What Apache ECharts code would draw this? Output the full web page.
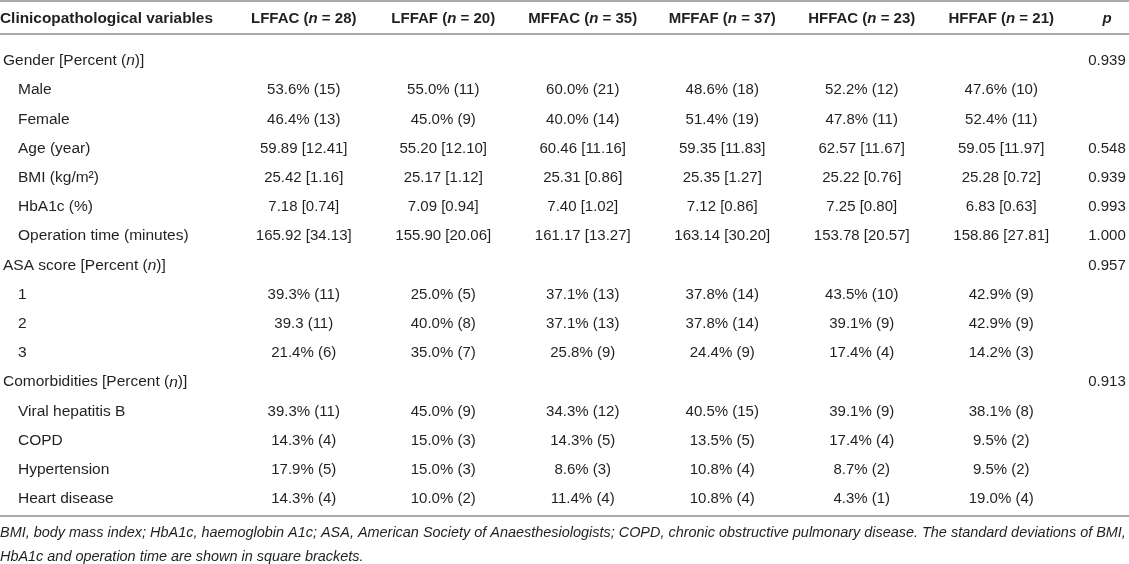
<!DOCTYPE html>
<html>
<head>
<meta charset="utf-8">
<script src="https://cdn.jsdelivr.net/npm/echarts@6/dist/echarts.min.js"></script>
<style>
  html, body { margin: 0; padding: 0; background: #fff; }
  #table { width: 1129px; height: 564px; }
</style>
</head>
<body>
<div id="table"></div>
<script>
var groups = ['LFFAC', 'LFFAF', 'MFFAC', 'MFFAF', 'HFFAC', 'HFFAF'];
var groupN = [28, 20, 35, 37, 23, 21];

var rows = [
  'Gender [Percent (n)]', 'Male', 'Female', 'Age (year)', 'BMI (kg/m²)', 'HbA1c (%)',
  'Operation time (minutes)', 'ASA score [Percent (n)]', '1', '2', '3',
  'Comorbidities [Percent (n)]', 'Viral hepatitis B', 'COPD', 'Hypertension', 'Heart disease'
];
var rowLevel = [0, 1, 1, 1, 1, 1, 1, 0, 1, 1, 1, 0, 1, 1, 1, 1];

var lffac = ['', '53.6% (15)', '46.4% (13)', '59.89 [12.41]', '25.42 [1.16]', '7.18 [0.74]', '165.92 [34.13]',
  '', '39.3% (11)', '39.3 (11)', '21.4% (6)', '', '39.3% (11)', '14.3% (4)', '17.9% (5)', '14.3% (4)'];
var lffaf = ['', '55.0% (11)', '45.0% (9)', '55.20 [12.10]', '25.17 [1.12]', '7.09 [0.94]', '155.90 [20.06]',
  '', '25.0% (5)', '40.0% (8)', '35.0% (7)', '', '45.0% (9)', '15.0% (3)', '15.0% (3)', '10.0% (2)'];
var mffac = ['', '60.0% (21)', '40.0% (14)', '60.46 [11.16]', '25.31 [0.86]', '7.40 [1.02]', '161.17 [13.27]',
  '', '37.1% (13)', '37.1% (13)', '25.8% (9)', '', '34.3% (12)', '14.3% (5)', '8.6% (3)', '11.4% (4)'];
var mffaf = ['', '48.6% (18)', '51.4% (19)', '59.35 [11.83]', '25.35 [1.27]', '7.12 [0.86]', '163.14 [30.20]',
  '', '37.8% (14)', '37.8% (14)', '24.4% (9)', '', '40.5% (15)', '13.5% (5)', '10.8% (4)', '10.8% (4)'];
var hffac = ['', '52.2% (12)', '47.8% (11)', '62.57 [11.67]', '25.22 [0.76]', '7.25 [0.80]', '153.78 [20.57]',
  '', '43.5% (10)', '39.1% (9)', '17.4% (4)', '', '39.1% (9)', '17.4% (4)', '8.7% (2)', '4.3% (1)'];
var hffaf = ['', '47.6% (10)', '52.4% (11)', '59.05 [11.97]', '25.28 [0.72]', '6.83 [0.63]', '158.86 [27.81]',
  '', '42.9% (9)', '42.9% (9)', '14.2% (3)', '', '38.1% (8)', '9.5% (2)', '9.5% (2)', '19.0% (4)'];
var pValues = ['0.939', '', '', '0.548', '0.939', '0.993', '1.000', '0.957', '', '', '', '0.913', '', '', '', ''];

var footnote = [
  'BMI, body mass index; HbA1c, haemoglobin A1c; ASA, American Society of Anaesthesiologists; COPD, chronic obstructive pulmonary disease. The standard deviations of BMI,',
  'HbA1c and operation time are shown in square brackets.'
];

var FONT = '"Liberation Sans", Arial, Helvetica, sans-serif';
var INK = '#231f20';
var RULE = '#8c8c8c';

var columns = [lffac, lffaf, mffac, mffaf, hffac, hffaf];
var cells = [];
columns.forEach(function (col, c) {
  col.forEach(function (txt, r) {
    if (txt) cells.push([c, r, txt]);
  });
});
var pCells = [];
pValues.forEach(function (txt, r) {
  if (txt) pCells.push([0, r, txt]);
});

// text is read back from the source list so "1.000" keeps its zeros
function makeCell(list) {
  return function (params, api) {
    var pt = api.coord([api.value(0), api.value(1)]);
    return {
      type: 'text',
      x: pt[0],
      y: pt[1],
      style: {
        text: list[params.dataIndex][2],
        align: 'center',
        verticalAlign: 'middle',
        fontSize: 15,
        fontFamily: FONT,
        fill: INK
      }
    };
  };
}

// row label: italic n inside "(n)", indent for sub rows
function rowLabel(value) {
  var i = rows.indexOf(value);
  if (rowLevel[i] === 1) return '{s|' + value + '}';
  var parts = value.split('(n)');
  return '{t|' + parts[0] + '(}{ti|n}{t|)' + parts[1] + '}';
}

var textRich = {
  t: { fontSize: 15.5, fontFamily: FONT, color: INK },
  ti: { fontSize: 15.5, fontFamily: FONT, color: INK, fontStyle: 'italic' },
  s: { fontSize: 15.5, fontFamily: FONT, color: INK, padding: [0, 0, 0, 15] }
};
var headRich = {
  b: { fontSize: 15, fontFamily: FONT, color: INK, fontWeight: 'bold' },
  bi: { fontSize: 15, fontFamily: FONT, color: INK, fontWeight: 'bold', fontStyle: 'italic' }
};

var hiddenAxis = {
  axisLine: { show: false },
  axisTick: { show: false },
  splitLine: { show: false }
};

var tableChart = echarts.init(document.getElementById('table'), null, { renderer: 'canvas' });

var option = {
  animation: false,
  backgroundColor: '#fff',
  title: {
    text: 'Clinicopathological variables',
    left: 0,
    top: 11,
    padding: 0,
    textStyle: { fontSize: 15.4, fontFamily: FONT, color: INK, fontWeight: 'bold' }
  },
  grid: [
    { left: 230, right: 58, top: 46.4, bottom: 50.4 },
    { left: 1085, right: 0, top: 46.4, bottom: 50.4 }
  ],
  xAxis: [
    Object.assign({
      type: 'category',
      gridIndex: 0,
      position: 'top',
      data: groups,
      axisLabel: {
        interval: 0,
        margin: 20,
        formatter: function (v, i) {
          return '{b|' + v + ' (}{bi|n}{b| = ' + groupN[i] + ')}';
        },
        rich: headRich
      }
    }, hiddenAxis),
    Object.assign({
      type: 'category',
      gridIndex: 1,
      position: 'top',
      data: ['p'],
      axisLabel: {
        interval: 0,
        margin: 20,
        formatter: '{bi|{value}}',
        rich: headRich
      }
    }, hiddenAxis)
  ],
  yAxis: [
    Object.assign({
      type: 'category',
      gridIndex: 0,
      inverse: true,
      data: rows,
      axisLabel: {
        interval: 0,
        align: 'left',
        margin: 231,
        formatter: rowLabel,
        rich: textRich
      }
    }, hiddenAxis),
    Object.assign({
      type: 'category',
      gridIndex: 1,
      inverse: true,
      data: rows,
      axisLabel: { show: false }
    }, hiddenAxis)
  ],
  series: [
    {
      name: 'groups',
      type: 'custom',
      xAxisIndex: 0,
      yAxisIndex: 0,
      data: cells,
      renderItem: makeCell(cells),
      silent: true
    },
    {
      name: 'p',
      type: 'custom',
      xAxisIndex: 1,
      yAxisIndex: 1,
      data: pCells,
      renderItem: makeCell(pCells),
      silent: true
    }
  ],
  graphic: [
    { type: 'line', shape: { x1: 0, y1: 1, x2: 1129, y2: 1 }, style: { stroke: RULE, lineWidth: 1.5 } },
    { type: 'line', shape: { x1: 0, y1: 34, x2: 1129, y2: 34 }, style: { stroke: RULE, lineWidth: 1.5 } },
    { type: 'line', shape: { x1: 0, y1: 516, x2: 1129, y2: 516 }, style: { stroke: RULE, lineWidth: 1.5 } },
    {
      type: 'text', left: 0, top: 526,
      style: { text: footnote[0], fontSize: 14.45, fontFamily: FONT, fontStyle: 'italic', fill: INK }
    },
    {
      type: 'text', left: 0, top: 550,
      style: { text: footnote[1], fontSize: 14.45, fontFamily: FONT, fontStyle: 'italic', fill: INK }
    }
  ]
};

tableChart.setOption(option);
</script>
</body>
</html>
